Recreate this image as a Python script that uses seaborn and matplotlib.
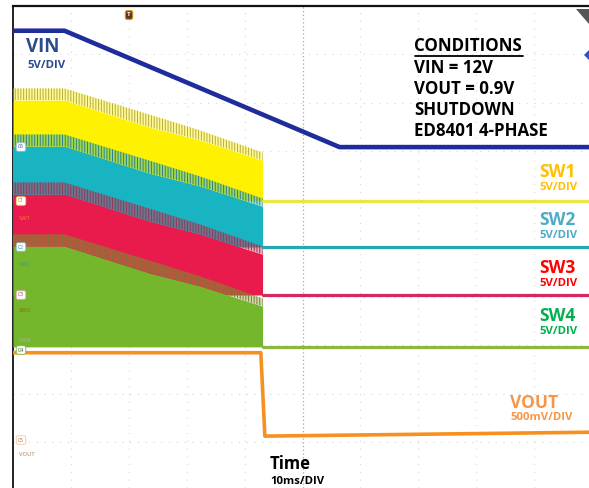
import numpy as np
import pandas as pd
import matplotlib
matplotlib.use("Agg")
import matplotlib.pyplot as plt
from matplotlib.lines import Line2D
import seaborn as sns

# ---------------- data (time in ms, 10 ms/div) ----------------
t_vin = [-50.0, -41.1, 6.4, 49.5]
vin_v = [12.0, 12.0, 0.0, 0.0]

t_sw = [-50.0, -41.1, -26.4, -17.8, -6.9]
sw_body_v = [10.4, 10.4, 7.6, 6.3, 4.2]     # solid switching envelope (V)
sw_peak_v = [11.6, 11.6, 8.9, 7.3, 5.0]     # ringing peaks (V)
t_sw_off = [-6.9, 49.5]
sw_off_v = [0.0, 0.0]

t_vout = [-50.0, -7.2, -6.5, 49.5]
vout_v = [0.9, 0.9, 0.04, 0.08]

channels = ["SW1", "SW2", "SW3", "SW4"]
ch_offset_div = [0.98, 0.03, -0.96, -2.03]
vin_offset_div = 2.09
vout_offset_div = -3.95
sw_v_per_div = 5.0
vout_v_per_div = 0.5

cond_lines = ["CONDITIONS", "VIN = 12V", "VOUT = 0.9V", "SHUTDOWN", "ED8401 4-PHASE"]

# ---------------- style ----------------
sns.set_style("white")
plt.rcParams["font.family"] = ["Open Sans", "DejaVu Sans"]
plt.rcParams["hatch.linewidth"] = 0.7

band_col = ["#FFF200", "#18B4C2", "#E91A4C", "#74B72D"]
fringe_col = ["#B5AD3A", "#2F8088", "#8A3D55", "#8A6B35"]
off_col = ["#E8E840", "#22A9B3", "#D22A5E", "#8CB83E"]
label_col = ["#FFC000", "#4BACC6", "#FF0000", "#00B050"]
vin_col = "#1F2C9C"
vin_txt = "#2B4C8C"
vout_col = "#F7901E"
vout_txt = "#F79646"

W, H = 589, 488
fig = plt.figure(figsize=(W / 100, H / 100), dpi=100)
ax = fig.add_axes([13 / W, 0, (W - 13) / W, (H - 6) / H])
ax.set_xlim(-50, 49.48)
ax.set_ylim(-4.94, 5.0)
ax.set_xticks([])
ax.set_yticks([])
for s in ["right", "bottom"]:
    ax.spines[s].set_visible(False)
ax.spines["left"].set_linewidth(1.3)
ax.spines["top"].set_linewidth(1.6)
ax.spines["left"].set_color("#111111")
ax.spines["top"].set_color("#111111")

# scope graticule
for gx in range(-40, 50, 10):
    if gx == 0:
        ax.axvline(gx, color="#A8A8A8", lw=0.9, ls=(0, (1, 2)), zorder=1)
    else:
        ax.axvline(gx, color="#D6D6D6", lw=0.8, ls=(0, (1, 6)), zorder=1)
for gy in range(-4, 5):
    ax.axhline(gy, color="#D6D6D6", lw=0.8, ls=(0, (1, 6)), zorder=1)

# switching bands
for i, ch in enumerate(channels):
    off = ch_offset_div[i]
    body = off + np.array(sw_body_v) / sw_v_per_div
    peak = off + np.array(sw_peak_v) / sw_v_per_div
    ax.fill_between(t_sw, off, body, color=band_col[i], lw=0, zorder=3 + i)
    ax.fill_between(t_sw, body, peak, facecolor=matplotlib.colors.to_rgba(band_col[i], 0.4),
                    hatch="||||||", edgecolor=fringe_col[i], lw=0, zorder=3 + i)
    df = pd.DataFrame({"t": t_sw_off, "v": off + np.array(sw_off_v) / sw_v_per_div})
    sns.lineplot(data=df, x="t", y="v", ax=ax, color=off_col[i], lw=2.3,
                 estimator=None, sort=False, zorder=8)

# VOUT
df_vout = pd.DataFrame({"t": t_vout, "v": vout_offset_div + np.array(vout_v) / vout_v_per_div})
sns.lineplot(data=df_vout, x="t", y="v", ax=ax, color=vout_col, lw=2.6,
             estimator=None, sort=False, zorder=9)
# VIN
df_vin = pd.DataFrame({"t": t_vin, "v": vin_offset_div + np.array(vin_v) / sw_v_per_div})
sns.lineplot(data=df_vin, x="t", y="v", ax=ax, color=vin_col, lw=3.3,
             estimator=None, sort=False, zorder=9)
ax.set_xlabel("")
ax.set_ylabel("")


def ftext(x, y, s, **kw):
    fig.text(x / W, 1 - y / H, s, **kw)


# channel labels
ftext(26, 47, "VIN", color=vin_txt, fontsize=13.5, fontweight="bold", va="center")
ftext(27, 66, "5V/DIV", color=vin_txt, fontsize=8.2, fontweight="bold", va="center")

lab_y = [172, 220, 268, 316]
for i, ch in enumerate(channels):
    ftext(557, lab_y[i], ch, color=label_col[i], fontsize=12.5, fontweight="bold",
          ha="center", va="center")
    ftext(558, lab_y[i] + 16, "5V/DIV", color=label_col[i], fontsize=8.2,
          fontweight="bold", ha="center", va="center")
ftext(534, 403, "VOUT", color=vout_txt, fontsize=12.5, fontweight="bold", ha="center", va="center")
ftext(542, 418, "500mV/DIV", color=vout_txt, fontsize=8.2, fontweight="bold",
      ha="center", va="center")

ftext(270, 464, "Time", color="black", fontsize=12, fontweight="bold", va="center")
ftext(270, 481, "10ms/DIV", color="black", fontsize=8.2, fontweight="bold", va="center")

cond_y = [46, 68, 89, 110, 131]
for s, y in zip(cond_lines, cond_y):
    ftext(414, y, s, color="black", fontsize=12.2, fontweight="bold", va="center")
fig.add_artist(Line2D([415 / W, 523 / W], [1 - 56 / H, 1 - 56 / H], color="black", lw=1.3))

# small scope channel markers at left edge
markers = [("C6", 147, "#9DB4E0", "#2B4C8C"), ("C1", 201, "#E8D060", "#8a7a20"),
           ("C2", 247, "#6FC7D0", "#2F7F88"), ("C3", 295, "#E7A0B8", "#8A3D55"),
           ("C4", 350, "#7AB53A", "#2d4d10"), ("C5", 440, "#F2C79A", "#9a6a3a")]
for s, y, ec, tc in markers:
    ftext(21, y, s, color=tc, fontsize=3.6, ha="center", va="center",
          bbox=dict(boxstyle="round,pad=0.35", fc="white", ec=ec, lw=0.6))
small = [("SW1", 219, "#F08020"), ("SW2", 265, "#2F9F80"), ("SW3", 311, "#A05A20"),
         ("SW4", 340, "#B0B0A0"), ("VOUT", 455, "#B08050")]
for s, y, c in small:
    ftext(19, y, s, color=c, fontsize=4.2, va="center")

# trigger marker and right-edge markers
ftext(129, 15, "T", color="white", fontsize=4.5, fontweight="bold", ha="center", va="center",
      bbox=dict(boxstyle="round,pad=0.3", fc="#5A3A1E", ec="#F08A20", lw=0.8))
fig.add_artist(plt.Polygon([[576 / W, 1 - 9 / H], [589 / W, 1 - 9 / H], [589 / W, 1 - 24 / H]],
                           closed=True, fc="#555555", ec="none", transform=fig.transFigure))
fig.add_artist(plt.Polygon([[584 / W, 1 - 55 / H], [589 / W, 1 - 50 / H], [589 / W, 1 - 60 / H]],
                           closed=True, fc="#2F4FD0", ec="none", transform=fig.transFigure))

fig.savefig("out.png", dpi=100)
